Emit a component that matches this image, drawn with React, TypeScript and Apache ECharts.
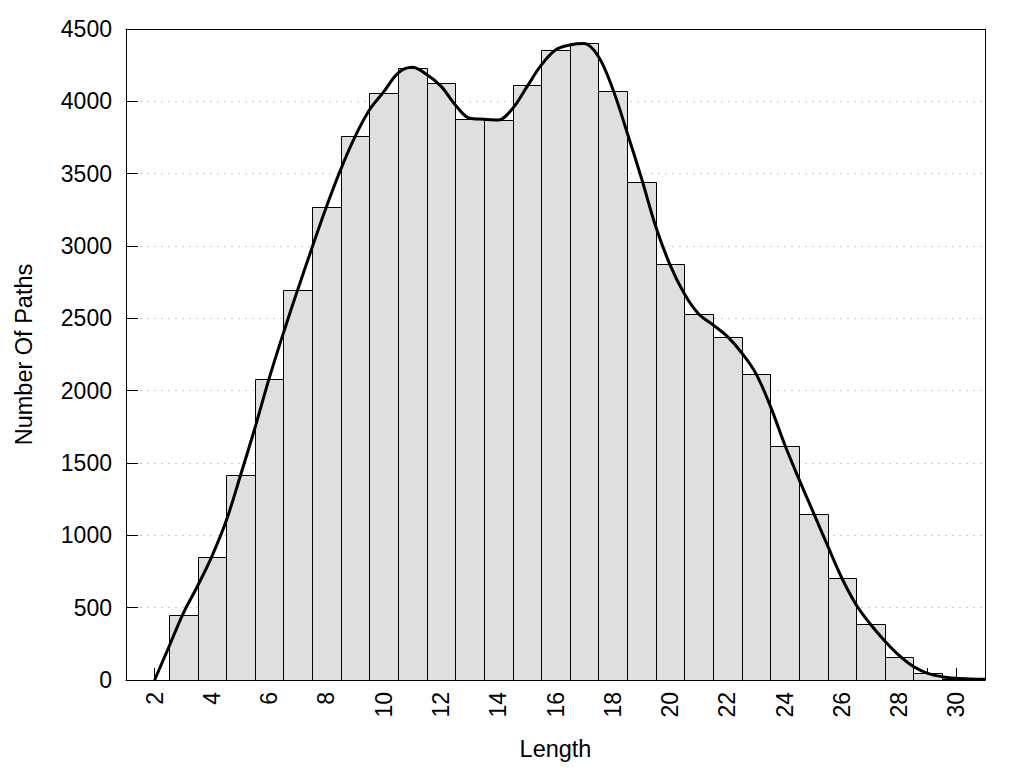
import React, { useEffect, useRef } from "react";
import * as echarts from "echarts";

const binCenters = [3, 4, 5, 6, 7, 8, 9, 10, 11, 12, 13, 14, 15, 16, 17, 18, 19, 20, 21, 22, 23, 24, 25, 26, 27, 28, 29, 30];
const binCounts = [450, 848, 1415, 2078, 2694, 3272, 3757, 4061, 4233, 4125, 3880, 3869, 4111, 4353, 4400, 4068, 3439, 2873, 2528, 2369, 2113, 1615, 1145, 703, 385, 157, 46, 10];

const curveX = [2, 2.5, 3, 3.5, 4, 4.5, 5, 5.5, 6, 6.5, 7, 7.5, 8, 8.5, 9, 9.5, 10, 10.5, 11, 11.5, 12, 12.5, 13, 13.5, 14, 14.5, 15, 15.5, 16, 16.5, 17, 17.5, 18, 18.5, 19, 19.5, 20, 20.5, 21, 21.5, 22, 22.5, 23, 23.5, 24, 24.5, 25, 25.5, 26, 26.5, 27, 27.5, 28, 28.5, 29, 29.5, 30, 30.5, 31];
const curveY = [0, 230, 461, 650, 855, 1100, 1415, 1740, 2085, 2400, 2700, 2990, 3272, 3530, 3756, 3940, 4065, 4195, 4235, 4185, 4105, 3975, 3883, 3876, 3871, 3950, 4100, 4250, 4355, 4390, 4400, 4310, 4085, 3785, 3470, 3135, 2870, 2670, 2530, 2455, 2375, 2262, 2118, 1895, 1630, 1390, 1160, 930, 705, 520, 385, 270, 170, 93, 46, 23, 12, 7, 5];

const FONT = "'Liberation Sans', Arial, sans-serif";

export default function App() {
  const ref = useRef<HTMLDivElement>(null);
  useEffect(() => {
    if (!ref.current) return;
    const chart = echarts.init(ref.current, null, { renderer: "svg" });
    const barData = binCenters.map((x, i) => [x, binCounts[i]]);
    const lineData = curveX.map((x, i) => [x, curveY[i]]);
    const frameAxis = {
      type: "value",
      axisLine: { show: true, onZero: false, lineStyle: { color: "#000", width: 1 } },
      axisTick: { show: false },
      axisLabel: { show: false },
      splitLine: { show: false },
    };
    chart.setOption({
      animation: false,
      backgroundColor: "#ffffff",
      textStyle: { fontFamily: FONT },
      grid: {
        left: 126,
        right: 39,
        top: 29,
        bottom: 88,
        show: false,
      },
      xAxis: [
        {
          type: "value",
          min: 1,
          max: 31,
          interval: 1,
          name: "Length",
          nameLocation: "middle",
          nameGap: 57,
          nameTextStyle: { fontSize: 23.5, color: "#000", fontFamily: FONT },
          axisLine: { show: true, onZero: false, lineStyle: { color: "#000", width: 1 } },
          axisTick: { show: true, inside: true, length: 12, lineStyle: { color: "#000", width: 1 } },
          axisLabel: {
            rotate: 90,
            margin: 12,
            fontSize: 23,
            color: "#000",
            fontFamily: FONT,
            showMinLabel: true,
            showMaxLabel: true,
            formatter: (v: number) => (Math.round(v) % 2 === 0 ? String(v) : ""),
          },
          splitLine: { show: false },
        },
        { ...frameAxis, position: "top", min: 1, max: 31 },
      ],
      yAxis: [
        {
          type: "value",
          min: 0,
          max: 4500,
          interval: 500,
          name: "Number Of Paths",
          nameLocation: "middle",
          nameGap: 90,
          nameTextStyle: { fontSize: 23.5, color: "#000", fontFamily: FONT },
          axisLine: { show: true, lineStyle: { color: "#000", width: 1 } },
          axisTick: { show: true, inside: true, length: 12, lineStyle: { color: "#000", width: 1 } },
          axisLabel: { margin: 14, fontSize: 23, color: "#000", fontFamily: FONT, formatter: (v: number) => String(v) },
          splitLine: { show: true, lineStyle: { color: "#cccccc", type: [2, 5], width: 1 } },
        },
        { ...frameAxis, position: "right", min: 0, max: 4500 },
      ],
      series: [
        {
          type: "custom",
          z: 2,
          data: barData,
          encode: { x: 0, y: 1 },
          renderItem: (params: any, api: any) => {
            const x = api.value(0);
            const y = api.value(1);
            const p1 = api.coord([x - 0.5, y]);
            const p2 = api.coord([x + 0.5, 0]);
            return {
              type: "rect",
              shape: { x: Math.round(p1[0]) + 0.5, y: Math.round(p1[1]) + 0.5, width: Math.round(p2[0]) - Math.round(p1[0]), height: Math.round(p2[1]) - Math.round(p1[1]) },
              style: { fill: "#dfdfdf", stroke: "#000", lineWidth: 1 },
            };
          },
        },
        {
          type: "line",
          z: 3,
          data: lineData,
          smooth: 0.35,
          showSymbol: false,
          symbol: "none",
          lineStyle: { color: "#000", width: 3 },
        },
      ],
    });
    return () => chart.dispose();
  }, []);
  return <div ref={ref} style={{ position: "fixed", left: 0, top: 0, width: 1024, height: 768 }} />;
}
